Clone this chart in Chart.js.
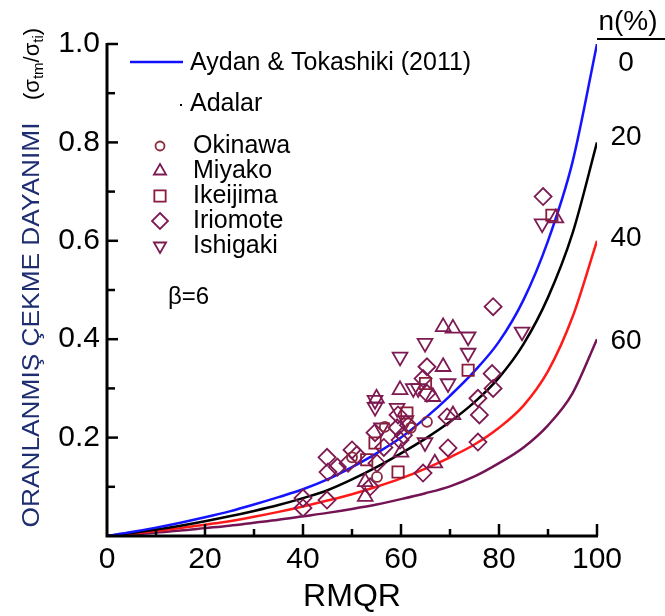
<!DOCTYPE html>
<html lang="tr">
<head>
<meta charset="UTF-8">
<title>RMQR</title>
<script src="https://cdn.jsdelivr.net/npm/chart.js"></script>
<style>
  body { margin: 0; background: #fff; }
  #grafico { display: block; }
</style>
</head>
<body>
<canvas id="grafico" width="665" height="616"></canvas>
<script>
// egriler (okunan degerler)
const rmqr = [0, 5, 10, 15, 20, 25, 30, 35, 40, 45, 50, 55, 60, 65, 70, 75, 80, 85, 90, 95, 100];
const n0  = [0, 0.008, 0.017, 0.027, 0.038, 0.05, 0.064, 0.079, 0.095, 0.115, 0.14, 0.168, 0.2, 0.24, 0.285, 0.335, 0.395, 0.48, 0.6, 0.76, 1.0];
const n20 = [0, 0.006, 0.013, 0.021, 0.03, 0.04, 0.051, 0.063, 0.077, 0.093, 0.115, 0.14, 0.168, 0.198, 0.232, 0.272, 0.322, 0.39, 0.485, 0.615, 0.8];
const n40 = [0, 0.005, 0.01, 0.016, 0.023, 0.03, 0.039, 0.049, 0.06, 0.072, 0.085, 0.1, 0.117, 0.137, 0.16, 0.186, 0.22, 0.265, 0.335, 0.445, 0.6];
const n60 = [0, 0.003, 0.007, 0.011, 0.016, 0.021, 0.027, 0.033, 0.04, 0.047, 0.055, 0.064, 0.075, 0.087, 0.101, 0.121, 0.148, 0.18, 0.225, 0.29, 0.4];
const nEtiket = ['0', '20', '40', '60'];

// olcum noktalari
const okinawaX = [56.7, 65.3, 55.1, 62, 50];
const okinawaY = [0.222, 0.232, 0.12, 0.22, 0.16];
const miyakoX = [91.6, 68.6, 70.6, 68.6, 59.8, 66.5, 52.7, 52.7, 66.9, 70.6, 55, 60];
const miyakoY = [0.646, 0.425, 0.422, 0.344, 0.297, 0.283, 0.08, 0.11, 0.148, 0.246, 0.28, 0.17];
const ikeijimaX = [90.8, 73.7, 54.7, 59.4, 61.2, 65, 53];
const ikeijimaY = [0.652, 0.337, 0.189, 0.13, 0.25, 0.31, 0.155];
const iriomoteX = [89, 78.8, 78.6, 78.8, 75.7, 76, 75.7, 69.4, 69.6, 65.3, 64.5, 65.3, 64.5, 59.2, 59.8, 59.4, 54.7, 55.1, 53.7, 50, 51, 49.2, 44.9, 45.1, 40, 44.9, 40, 61.5, 60.5, 56.5, 47];
const iriomoteY = [0.69, 0.466, 0.33, 0.30, 0.28, 0.246, 0.191, 0.242, 0.179, 0.344, 0.32, 0.29, 0.128, 0.22, 0.195, 0.246, 0.21, 0.148, 0.10, 0.175, 0.165, 0.148, 0.16, 0.13, 0.077, 0.073, 0.057, 0.225, 0.205, 0.18, 0.14];
const ishigakiX = [88.8, 84.7, 73.7, 64.9, 59.8, 73.7, 69.6, 62.5, 54.7, 54.7, 59.2, 64.9, 63.5, 61, 56];
const ishigakiY = [0.635, 0.415, 0.405, 0.392, 0.364, 0.372, 0.31, 0.30, 0.276, 0.262, 0.26, 0.19, 0.30, 0.235, 0.22];

const FONT = "'Liberation Sans', Arial, sans-serif";
const MOR = '#7d1a52';

function nokta(xs, ys) {
    return xs.map((x, i) => ({ x: x, y: ys[i] }));
}
function egri(ys) {
    return rmqr.map((x, i) => ({ x: x, y: ys[i] }));
}

function cizgi(ys, renk) {
    return {
        data: egri(ys), showLine: true, borderColor: renk, borderWidth: 2.5,
        pointRadius: 0, cubicInterpolationMode: 'monotone', fill: false, order: 2
    };
}
function isaret(xs, ys, stil, r, renk, rot) {
    return {
        data: nokta(xs, ys), showLine: false, pointStyle: stil, pointRadius: r,
        pointRotation: rot || 0, borderColor: renk, pointBorderWidth: 1.8,
        backgroundColor: 'rgba(0,0,0,0)', pointBackgroundColor: 'rgba(0,0,0,0)', order: 1
    };
}

// kendi isaret cizimim (lejant icin)
function ciz(ctx, stil, x, y, r, renk) {
    ctx.save();
    ctx.strokeStyle = renk;
    ctx.lineWidth = 1.8;
    ctx.beginPath();
    if (stil == 'circle') {
        ctx.arc(x, y, r, 0, Math.PI * 2);
    } else if (stil == 'triangle' || stil == 'down') {
        const s = stil == 'down' ? -1 : 1;
        ctx.moveTo(x, y - s * r);
        ctx.lineTo(x + r * 0.866, y + s * r * 0.5);
        ctx.lineTo(x - r * 0.866, y + s * r * 0.5);
        ctx.closePath();
    } else if (stil == 'rect') {
        const h = r * 0.707;
        ctx.rect(x - h, y - h, 2 * h, 2 * h);
    } else if (stil == 'rectRot') {
        ctx.moveTo(x, y - r); ctx.lineTo(x + r, y); ctx.lineTo(x, y + r); ctx.lineTo(x - r, y);
        ctx.closePath();
    }
    ctx.stroke();
    ctx.restore();
}

const eksenler = {
    id: 'eksenler',
    afterDraw(chart) {
        const ctx = chart.ctx;
        const xs = chart.scales.x, ys = chart.scales.y;
        const a = chart.chartArea;
        ctx.save();
        ctx.strokeStyle = '#000';
        ctx.lineWidth = 3;
        ctx.beginPath();
        ctx.moveTo(a.left, a.top - 1);
        ctx.lineTo(a.left, a.bottom);
        ctx.lineTo(a.right + 1, a.bottom);
        ctx.stroke();
        ctx.lineWidth = 2.5;
        // y tikleri (iceri)
        for (let i = 1; i <= 10; i++) {
            const py = ys.getPixelForValue(i / 10);
            const l = i % 2 == 0 ? 11 : 8;
            ctx.beginPath(); ctx.moveTo(a.left, py); ctx.lineTo(a.left + l, py); ctx.stroke();
        }
        // x tikleri
        for (let i = 1; i <= 10; i++) {
            const px = xs.getPixelForValue(i * 10);
            const l = i % 2 == 0 ? 12 : 7;
            ctx.beginPath(); ctx.moveTo(px, a.bottom); ctx.lineTo(px, a.bottom - l); ctx.stroke();
        }

        // n(%) etiketleri
        ctx.fillStyle = '#000';
        ctx.font = '28px ' + FONT;
        ctx.textAlign = 'center';
        ctx.textBaseline = 'middle';
        ctx.fillText('n(%)', 628, 22);
        ctx.lineWidth = 2;
        ctx.beginPath(); ctx.moveTo(597, 39); ctx.lineTo(665, 39); ctx.stroke();
        const son = [n0, n20, n40, n60];
        const kayma = [0.04, -0.01, -0.005, 0.005];
        son.forEach((s, i) => {
            const py = ys.getPixelForValue(s[s.length - 1] - kayma[i]);
            ctx.fillText(nEtiket[i], 626, py);
        });

        // lejant
        ctx.textAlign = 'left';
        ctx.font = '25px ' + FONT;
        ctx.strokeStyle = '#1010ff';
        ctx.lineWidth = 2.5;
        ctx.beginPath(); ctx.moveTo(130, 62); ctx.lineTo(183, 62); ctx.stroke();
        ctx.fillText('Aydan & Tokashiki (2011)', 190, 63);
        ctx.fillText('Adalar', 190, 104);
        ctx.fillRect(180, 104, 2, 2);
        const lej = [
            ['Okinawa', 'circle', 4.5, '#8a2a3a'],
            ['Miyako', 'triangle', 7, MOR],
            ['Ikeijima', 'rect', 8, '#8a1c3a'],
            ['Iriomote', 'rectRot', 8, MOR],
            ['Ishigaki', 'down', 7, MOR]
        ];
        lej.forEach((l, i) => {
            const py = 146 + i * 25;
            ciz(ctx, l[1], 160, py, l[2], l[3]);
            ctx.fillText(l[0], 193, py);
        });
        ctx.font = '24px ' + FONT;
        ctx.fillText('\u03b2=6', 168, 297);

        // y ekseni basligi
        ctx.save();
        ctx.translate(33, 325);
        ctx.rotate(-Math.PI / 2);
        ctx.textAlign = 'center';
        ctx.fillStyle = '#1d2d70';
        ctx.font = '23px ' + FONT;
        const yazi = 'ORANLANMIŞ ÇEKME DAYANIMI';
        const w = ctx.measureText(yazi).width;
        ctx.scale(405 / w, 1);
        ctx.fillText(yazi, 0, 0);
        ctx.restore();

        ctx.save();
        ctx.translate(33, 100);
        ctx.rotate(-Math.PI / 2);
        ctx.textAlign = 'left';
        ctx.fillStyle = '#000';
        let x = 0;
        const parca = [['(\u03c3', 22, 0], ['tm', 15, 6], ['/\u03c3', 22, 0], ['ti', 15, 6], [')', 22, 0]];
        parca.forEach(p => {
            ctx.font = p[1] + 'px ' + FONT;
            ctx.fillText(p[0], x, p[2]);
            x += ctx.measureText(p[0]).width;
        });
        ctx.restore();
        ctx.restore();
    }
};

new Chart(document.getElementById('grafico'), {
    type: 'scatter',
    data: {
        datasets: [
            cizgi(n0, '#1414ff'),
            cizgi(n20, '#000000'),
            cizgi(n40, '#ff1a1a'),
            cizgi(n60, '#741455'),
            isaret(okinawaX, okinawaY, 'circle', 5, '#8a2a3a'),
            isaret(miyakoX, miyakoY, 'triangle', 8.5, MOR),
            isaret(ikeijimaX, ikeijimaY, 'rect', 8, '#8a1c3a'),
            isaret(iriomoteX, iriomoteY, 'rectRot', 8.5, MOR),
            isaret(ishigakiX, ishigakiY, 'triangle', 8.5, MOR, 180)
        ]
    },
    options: {
        responsive: false,
        animation: false,
        layout: { padding: { top: 44, right: 68, left: 0, bottom: 0 } },
        plugins: { legend: { display: false }, tooltip: { enabled: false } },
        scales: {
            x: {
                type: 'linear', min: 0, max: 100,
                ticks: { stepSize: 20, color: '#000', font: { size: 30, family: FONT }, padding: 6 },
                grid: { display: false, drawTicks: false },
                border: { display: false },
                title: { display: true, text: 'RMQR', color: '#000', font: { size: 32, family: FONT }, padding: { top: 0, bottom: 0 } },
                afterFit: s => { s.height = 80; }
            },
            y: {
                min: 0, max: 1,
                ticks: {
                    stepSize: 0.2, color: '#000', font: { size: 30, family: FONT }, padding: 7,
                    callback: v => v == 0 ? '' : v.toFixed(1)
                },
                grid: { display: false, drawTicks: false },
                border: { display: false },
                afterFit: s => { s.width = 107; }
            }
        }
    },
    plugins: [eksenler]
});
</script>
</body>
</html>
